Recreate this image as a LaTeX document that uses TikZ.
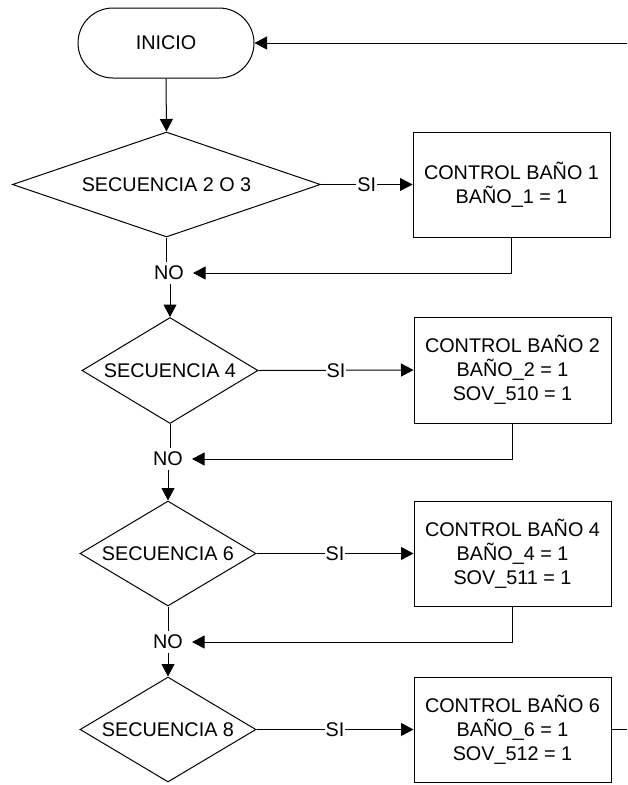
\documentclass[tikz,border=0pt]{standalone}
\usepackage{fontspec}
\setmainfont{Liberation Sans}
\usetikzlibrary{shapes.geometric,arrows.meta}

\begin{document}
\begin{tikzpicture}[x=1pt,y=-1pt,
  every node/.style={font=\fontsize{19.8}{24}\selectfont, text=black},
  conn/.style={draw=black, line width=1pt},
  arr/.style={conn, -{Triangle[length=12.5pt,width=13pt]}},
  term/.style={draw, line width=1pt, rounded corners=35pt,
               minimum width=176pt, minimum height=70pt},
  dec/.style={draw, diamond, line width=1pt, inner sep=0pt},
  proc/.style={draw, rectangle, line width=1pt,
               minimum width=197pt, minimum height=105pt, align=center},
  nolbl/.style={inner xsep=9pt, inner ysep=4pt},
  silbl/.style={fill=white, inner sep=1pt}]
\useasboundingbox (0,0) rectangle (627,785);

% start terminal
\node[term] (inicio) at (166,43) {INICIO};

% decisions
\node[dec, minimum width=308pt, minimum height=105pt] (d1) at (166.5,184.5) {};
\node (d1t) at (d1.center) {SECUENCIA 2 O 3};
\node[dec, minimum width=176pt, minimum height=106pt] (d2) at (170,370.5) {};
\node (d2t) at (d2.center) {SECUENCIA 4};
\node[dec, minimum width=176pt, minimum height=105pt] (d3) at (168,553.5) {};
\node (d3t) at (d3.center) {SECUENCIA 6};
\node[dec, minimum width=176pt, minimum height=105pt] (d4) at (168,729.5) {};
\node (d4t) at (d4.center) {SECUENCIA 8};

% process boxes
\node[proc] (b1) at (511.5,184.5) {CONTROL BAÑO 1\\BAÑO\_1 = 1};
\node[proc, minimum height=106pt] (b2) at (512.5,370) {CONTROL BAÑO 2\\BAÑO\_2 = 1\\SOV\_510 = 1};
\node[proc] (b3) at (512.5,553.5) {CONTROL BAÑO 4\\BAÑO\_4 = 1\\SOV\_511 = 1};
\node[proc] (b4) at (512.5,729.5) {CONTROL BAÑO 6\\BAÑO\_6 = 1\\SOV\_512 = 1};

% NO junction labels
\node[nolbl] (no1) at (169,273) {NO};
\node[nolbl] (no2) at (168,459) {NO};
\node[nolbl] (no3) at (168,642) {NO};

% loop ends at the right margin
\coordinate (loopin) at (627,43);
\coordinate (loopout) at (627,729.5);

% connectors
\draw[arr] (loopin) -- (inicio.east);
\draw[arr] (inicio.south) -- (d1.north);

\draw[arr] (d1.east) -- node[silbl] (si1) {SI} (b1.west);
\draw[arr] (b1.south) |- (no1.east);
\draw[conn] (d1.south) -- (d1.south |- no1.north);
\draw[arr] (no1.south -| d2.north) -- (d2.north);

\draw[arr] (d2.east) -- node[silbl] (si2) {SI} (b2.west);
\draw[arr] (b2.south) |- (no2.east);
\draw[conn] (d2.south) -- (d2.south |- no2.north);
\draw[arr] (no2.south -| d3.north) -- (d3.north);

\draw[arr] (d3.east) -- node[silbl] (si3) {SI} (b3.west);
\draw[arr] (b3.south) |- (no3.east);
\draw[conn] (d3.south) -- (d3.south |- no3.north);
\draw[arr] (no3.south -| d4.north) -- (d4.north);

\draw[arr] (d4.east) -- node[silbl] (si4) {SI} (b4.west);
\draw[conn] (b4.east) -- (loopout);
\end{tikzpicture}
\end{document}
